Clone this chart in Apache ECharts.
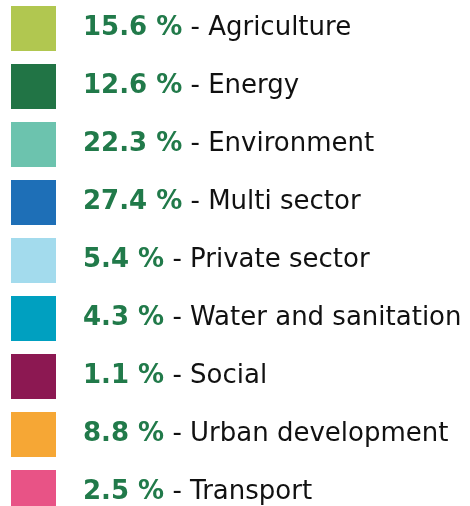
<!DOCTYPE html>
<html><head><meta charset="utf-8">
<script src="https://cdn.jsdelivr.net/npm/echarts@6/dist/echarts.min.js"></script>
<style>html,body{margin:0;padding:0;background:#fff;overflow:hidden}#c{width:470px;height:540px}</style>
</head><body><div id="c"></div>
<script>
const categories = ["Agriculture","Energy","Environment","Multi sector","Private sector","Water and sanitation","Social","Urban development","Transport"];
const values = [15.6, 12.6, 22.3, 27.4, 5.4, 4.3, 1.1, 8.8, 2.5];
const colors = ["#b1c750","#217445","#6cc3ae","#1e6fb7","#a3dbed","#00a0c0","#8c1852","#f6a735","#e85386"];

const chart = echarts.init(document.getElementById('c'), null, {renderer:'canvas'});
const data = categories.map((c,i)=>({name:c, value:values[i], itemStyle:{color:colors[i]}}));
chart.setOption({
  animation:false,
  textStyle:{fontFamily:'DejaVu Sans'},
  legend:{
    orient:'vertical', left:11, top:6, padding:0,
    icon:'rect', itemWidth:45, itemHeight:45, itemGap:13,
    selectedMode:false,
    formatter:(name)=>{
      const i = categories.indexOf(name);
      return '{v|' + values[i].toFixed(1) + ' %}{s| - ' + name + '}';
    },
    textStyle:{
      fontFamily:'DejaVu Sans', fontSize:26,
      padding:[0,0,0,22],
      rich:{
        v:{fontFamily:'DejaVu Sans', fontSize:26, fontWeight:'bold', color:'#217a4a'},
        s:{fontFamily:'DejaVu Sans', fontSize:26, color:'#111'}
      }
    }
  },
  series:[{type:'pie', radius:[0,0], center:[-100,-100], label:{show:false}, data:data, silent:true}]
});
</script></body></html>
